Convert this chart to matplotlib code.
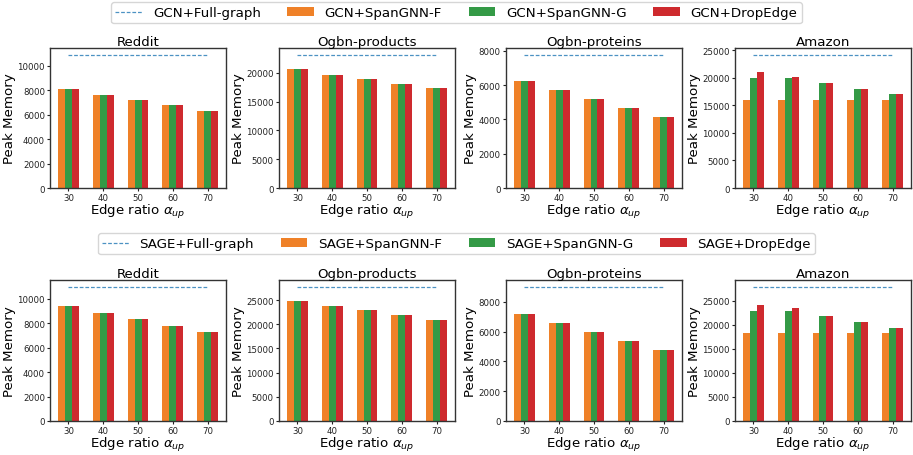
import numpy as np
import matplotlib
matplotlib.use("Agg")
import matplotlib.pyplot as plt

ratios = [30, 40, 50, 60, 70]
datasets = ["Reddit", "Ogbn-products", "Ogbn-proteins", "Amazon"]

# GCN row
gcn_full = [10900, 23170, 7770, 24200]
gcn_f = [
    [8100, 7600, 7200, 6800, 6300],
    [20600, 19700, 19000, 18150, 17300],
    [6230, 5710, 5190, 4670, 4150],
    [16000, 16000, 16000, 16000, 16000],
]
gcn_g = [
    [8100, 7600, 7200, 6800, 6300],
    [20600, 19700, 19000, 18150, 17300],
    [6230, 5710, 5190, 4670, 4150],
    [19950, 19950, 19050, 17970, 17000],
]
gcn_drop = [
    [8100, 7600, 7200, 6800, 6300],
    [20600, 19700, 19000, 18150, 17300],
    [6230, 5710, 5190, 4670, 4150],
    [21030, 20130, 19050, 17970, 17000],
]

# SAGE row
sage_full = [11000, 27750, 9000, 27900]
sage_f = [
    [9450, 8870, 8380, 7800, 7310],
    [24860, 23830, 23000, 21960, 20930],
    [7190, 6590, 5980, 5380, 4770],
    [18330, 18330, 18330, 18330, 18330],
]
sage_g = [
    [9450, 8870, 8380, 7800, 7310],
    [24860, 23830, 23000, 21960, 20930],
    [7190, 6590, 5980, 5380, 4770],
    [22920, 22920, 21880, 20630, 19380],
]
sage_drop = [
    [9450, 8870, 8380, 7800, 7310],
    [24860, 23830, 23000, 21960, 20930],
    [7190, 6590, 5980, 5380, 4770],
    [24170, 23540, 21880, 20630, 19380],
]

models = ["GCN", "SAGE"]
c_full = "#1f77b4"
c_f = "#EF8128"
c_g = "#349A46"
c_d = "#CE2A2E"

fig = plt.figure(figsize=(9.13, 4.56), dpi=100)

lefts = [0.0548, 0.3056, 0.5542, 0.805]
width = 0.1928
rows = [(0.5855, 0.307), (0.0746, 0.309)]
legend_y = [0.970, 0.463]

all_full = [gcn_full, sage_full]
all_f = [gcn_f, sage_f]
all_g = [gcn_g, sage_g]
all_d = [gcn_drop, sage_drop]

x = np.arange(len(ratios))
bw = 0.2
for r, model in enumerate(models):
    bottom, height = rows[r]
    handles = None
    for c, ds in enumerate(datasets):
        ax = fig.add_axes([lefts[c], bottom, width, height])
        ln, = ax.plot(x, [all_full[r][c]] * len(x), linestyle="--", color=c_full,
                      lw=0.9, dashes=(3, 1.5), alpha=0.8)
        b1 = ax.bar(x - bw, all_f[r][c], bw, color=c_f)
        b2 = ax.bar(x, all_g[r][c], bw, color=c_g)
        b3 = ax.bar(x + bw, all_d[r][c], bw, color=c_d)
        ax.set_xticks(x)
        ax.set_xticklabels([str(v) for v in ratios])
        ax.tick_params(labelsize=6.2, length=2.2, width=0.8, pad=1.5, colors="#222222")
        ax.set_title(ds, fontsize=9.6, pad=2)
        ax.set_ylabel("Peak Memory", fontsize=9.6, labelpad=1)
        ax.set_xlabel(r"Edge ratio $\alpha_{up}$", fontsize=9.6, labelpad=0)
        for s in ax.spines.values():
            s.set_linewidth(1.0)
            s.set_color("#333333")
        handles = [ln, b1, b2, b3]
    labels = [f"{model}+Full-graph", f"{model}+SpanGNN-F", f"{model}+SpanGNN-G", f"{model}+DropEdge"]
    fig.legend(handles, labels, loc="center", bbox_to_anchor=(0.5, legend_y[r]),
               ncol=4, fontsize=9.6, frameon=True, borderpad=0.3)

fig.savefig("out.png", dpi=100)
